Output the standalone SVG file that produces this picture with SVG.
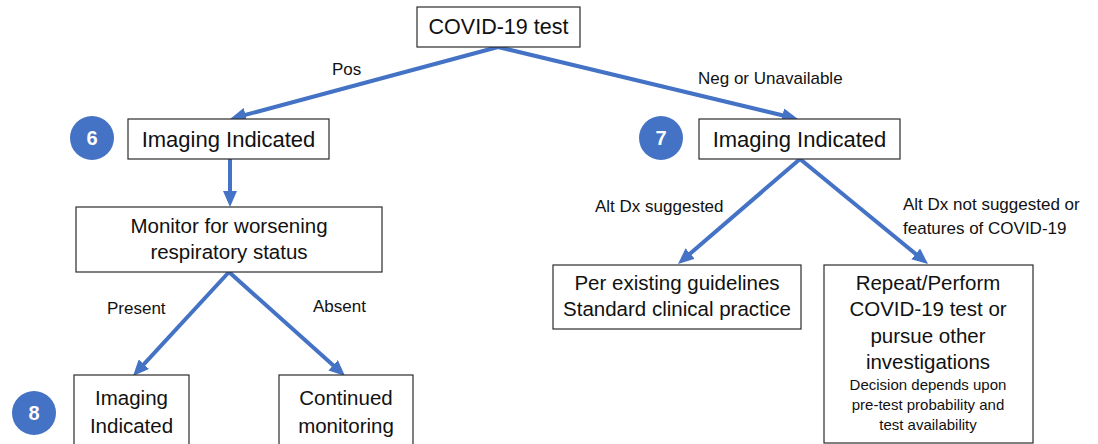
<svg xmlns="http://www.w3.org/2000/svg" width="1098" height="444" viewBox="0 0 1098 444">
<style>
.box{fill:#fff;stroke:#2b2b2b;stroke-width:1.2}
.t{font-family:"Liberation Sans",Arial,sans-serif;fill:#111;text-anchor:middle}
.big{font-size:22px}
.mid{font-size:20.5px}
.sm{font-size:15px}
.lbl{font-family:"Liberation Sans",Arial,sans-serif;fill:#111;font-size:17px}
.badge{fill:#4472C4}
.num{font-family:"Liberation Sans",Arial,sans-serif;font-weight:bold;font-size:20px;fill:#fff;text-anchor:middle}
.conn{stroke:#4472C4;stroke-width:4;fill:none;marker-end:url(#ah)}
</style>
<defs>
<marker id="ah" markerUnits="userSpaceOnUse" markerWidth="16" markerHeight="14" viewBox="0 0 16 14" refX="6" refY="7" orient="auto">
<path d="M0,0 L16,7 L0,14 Z" fill="#4472C4"/>
</marker>
</defs>
<rect width="1098" height="444" fill="#fff"/>
<g id="connectors">
<path class="conn" d="M498,47 L239.7,116.4"/>
<path class="conn" d="M498,47 L788.3,116.7"/>
<path class="conn" d="M230,159 L230,197"/>
<path class="conn" d="M800,159 L685.6,257.5"/>
<path class="conn" d="M800,159 L920.3,257.7"/>
<path class="conn" d="M229,272 L139.8,368.6"/>
<path class="conn" d="M229,272 L337.6,369.3"/>
<text class="lbl" x="332" y="75">Pos</text>
<text class="lbl" x="698" y="84">Neg or Unavailable</text>
<text class="lbl" x="595" y="212">Alt Dx suggested</text>
<text class="lbl" x="903" y="210">Alt Dx not suggested or</text>
<text class="lbl" x="903" y="234">features of COVID-19</text>
<text class="lbl" x="107" y="314">Present</text>
<text class="lbl" x="313" y="312">Absent</text>
</g>
<g id="covid-test">
<rect class="box" x="417" y="7" width="163" height="40"/>
<text class="t" x="498.5" y="34" font-size="21.5">COVID-19 test</text>
</g>
<g id="badge-6">
<circle class="badge" cx="92" cy="138" r="22"/>
<text class="num" x="92" y="145">6</text>
</g>
<g id="imaging-left">
<rect class="box" x="128" y="119" width="201" height="40"/>
<text class="t big" x="228.5" y="147">Imaging Indicated</text>
</g>
<g id="badge-7">
<circle class="badge" cx="661" cy="138" r="22"/>
<text class="num" x="661" y="145">7</text>
</g>
<g id="imaging-right">
<rect class="box" x="699" y="119" width="201" height="40"/>
<text class="t big" x="799.5" y="147">Imaging Indicated</text>
</g>
<g id="monitor">
<rect class="box" x="76" y="207" width="306" height="65"/>
<text class="t mid" x="229" y="233">Monitor for worsening</text>
<text class="t mid" x="229" y="259">respiratory status</text>
</g>
<g id="per-existing">
<rect class="box" x="553" y="265" width="248" height="64"/>
<text class="t mid" x="677" y="290">Per existing guidelines</text>
<text class="t mid" x="677" y="316">Standard clinical practice</text>
</g>
<g id="repeat">
<rect class="box" x="824" y="265" width="209" height="178"/>
<text class="t mid" x="928" y="290">Repeat/Perform</text>
<text class="t mid" x="928" y="316">COVID-19 test or</text>
<text class="t mid" x="928" y="343">pursue other</text>
<text class="t mid" x="928" y="369">investigations</text>
<text class="t sm" x="928" y="390">Decision depends upon</text>
<text class="t sm" x="928" y="410">pre-test probability and</text>
<text class="t sm" x="928" y="430">test availability</text>
</g>
<g id="badge-8">
<circle class="badge" cx="34" cy="413" r="22"/>
<text class="num" x="34" y="420">8</text>
</g>
<g id="imaging-bottom">
<rect class="box" x="74" y="375" width="115" height="80"/>
<text class="t mid" x="131.5" y="405">Imaging</text>
<text class="t mid" x="131.5" y="433">Indicated</text>
</g>
<g id="continued">
<rect class="box" x="279" y="375" width="134" height="80"/>
<text class="t mid" x="346" y="405">Continued</text>
<text class="t mid" x="346" y="433">monitoring</text>
</g>
</svg>
